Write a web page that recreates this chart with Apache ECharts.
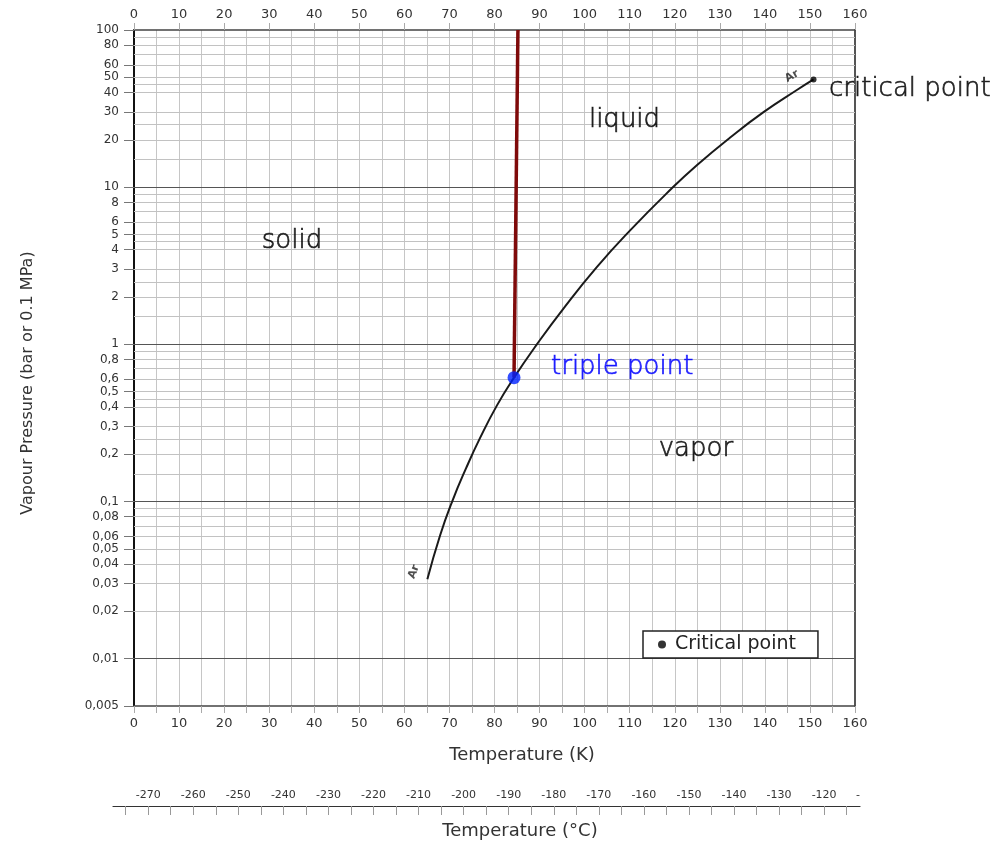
<!DOCTYPE html>
<html>
<head>
<meta charset="utf-8">
<script src="https://cdn.jsdelivr.net/npm/echarts@6/dist/echarts.min.js"></script>
<style>
html,body{margin:0;padding:0;background:#fff;}
#chart{width:998px;height:844px;}
</style>
</head>
<body>
<div id="chart"></div>
<script>
// ---- data ----
const tempK = [65.1, 67.9, 70.6, 73.7, 76.8, 80.55, 84.33, 89.4, 95.3, 102.7, 110.1, 119.3, 124.9, 132.3, 139.7, 147.1, 150.8];
const pressureBar = [0.032, 0.0606, 0.1, 0.163, 0.254, 0.409, 0.614, 1.0, 1.69, 3.10, 5.31, 9.8, 13.8, 20.7, 30.0, 41.5, 48.5];
const meltingK = [84.33, 85.2];
const meltingBar = [0.614, 100];
const triplePoint = [84.33, 0.614];
const criticalPoint = [150.8, 48.5];

const yLabelValues = [100,80,60,50,40,30,20,10,8,6,5,4,3,2,1,0.8,0.6,0.5,0.4,0.3,0.2,0.1,0.08,0.06,0.05,0.04,0.03,0.02,0.01,0.005];
const yMajorGrid = [10, 1, 0.1, 0.01];
const yMinorGrid = [
  0.006,0.007,0.008,0.009,
  0.015,0.02,0.025,0.03,0.04,0.045,0.05,0.06,0.07,0.08,0.09,
  0.15,0.2,0.25,0.3,0.4,0.45,0.5,0.6,0.7,0.8,0.9,
  1.5,2,2.5,3,4,4.5,5,6,7,8,9,
  15,20,25,30,40,45,50,60,70,80,90
];
const celsiusLabels = [-270,-260,-250,-240,-230,-220,-210,-200,-190,-180,-170,-160,-150,-140,-130,-120];
const celsiusTicks = [-275,-270,-265,-260,-255,-250,-245,-240,-235,-230,-225,-220,-215,-210,-205,-200,-195,-190,-185,-180,-175,-170,-165,-160,-155,-150,-145,-140,-135,-130,-125,-120,-115];

const regionLabels = [
  {text:'liquid', value:[108.85, 26.7], align:'center', color:'#000'},
  {text:'solid', value:[35.06, 4.52], align:'center', color:'#000'},
  {text:'vapor', value:[124.7, 0.214], align:'center', color:'#000'},
  {text:'triple point', value:[92.54, 0.711], align:'left', color:'#0000ff'},
  {text:'critical point', value:[154.23, 42.0], align:'left', color:'#000'}
];
const arLabels = [
  {text:'Ar', value:[62.1, 0.0357], rotate:68},
  {text:'Ar', value:[146.0, 50.8], rotate:30}
];

const FONT = 'DejaVu Sans';
const chart = echarts.init(document.getElementById('chart'), null, {renderer:'canvas'});

function fmtP(v){
  const n = Number(Number(v).toPrecision(6));
  return String(n).replace('.', ',');
}

const option = {
  animation: false,
  backgroundColor: '#fff',
  grid: [
    {left:134, right:143, top:30, bottom:138, containLabel:false},
    {left:113, right:138, top:806, height:1, containLabel:false}
  ],
  legend: {
    data: ['Critical point'],
    left: 643, top: 631,
    padding: [4, 22, 4, 15],
    itemWidth: 8, itemHeight: 8,
    icon: 'circle',
    backgroundColor: '#fff',
    borderColor: '#222', borderWidth: 1.5, borderRadius: 0,
    textStyle: {fontFamily: FONT, fontSize: 19, color: '#222', padding:[0,0,0,4]},
    selectedMode: false
  },
  xAxis: [
    {
      type:'value', gridIndex:0, position:'bottom', min:0, max:160, interval:5,
      axisLine:{show:true, onZero:false, lineStyle:{color:'#444', width:1.5}},
      axisTick:{show:true, length:7, lineStyle:{color:'#aaa'}},
      axisLabel:{margin:11, fontFamily:FONT, fontSize:13, color:'#333',
        formatter: v => (v % 10 === 0 ? String(v) : '')},
      splitLine:{show:true, lineStyle:{color:'#c6c6c6', width:1}}
    },
    {
      type:'value', gridIndex:0, position:'top', min:0, max:160, interval:10,
      axisLine:{show:true, onZero:false, lineStyle:{color:'#444', width:1.5}},
      axisTick:{show:true, length:7, lineStyle:{color:'#aaa'}},
      axisLabel:{margin:9, fontFamily:FONT, fontSize:13, color:'#333'},
      splitLine:{show:false}
    },
    {
      type:'value', gridIndex:1, position:'top', min:-277.81, max:-112.04,
      axisLine:{show:true, onZero:false, lineStyle:{color:'#333', width:1.2}},
      axisTick:{show:true, inside:true, length:9, customValues: celsiusTicks, lineStyle:{color:'#999'}},
      axisLabel:{margin:5, fontFamily:FONT, fontSize:11, color:'#333',
        customValues: celsiusLabels.concat([-112.5]),
        formatter: v => (v === -112.5 ? '-' : String(v))},
      splitLine:{show:false}
    }
  ],
  yAxis: [
    {
      type:'log', logBase:10, gridIndex:0, min:0.005, max:100, position:'left',
      axisLine:{show:true, onZero:false, lineStyle:{color:'#111', width:2}},
      axisTick:{show:true, length:10, customValues: yLabelValues, lineStyle:{color:'#777'}},
      axisLabel:{margin:15, fontFamily:FONT, fontSize:12, color:'#333',
        customValues: yLabelValues, formatter: fmtP},
      splitLine:{show:false},
      minorTick:{show:false}
    },
    {
      type:'log', logBase:10, gridIndex:0, min:0.005, max:100, position:'right',
      axisLine:{show:true, onZero:false, lineStyle:{color:'#555', width:2}},
      axisTick:{show:false}, axisLabel:{show:false}, splitLine:{show:false}
    },
    {
      type:'value', gridIndex:1, show:false, min:0, max:1
    }
  ],
  series: [
    {
      name:'grid', type:'line', xAxisIndex:0, yAxisIndex:0,
      data:[[0, 0.005]], showSymbol:false, silent:true,
      lineStyle:{opacity:0},
      markLine:{
        silent:true, symbol:['none','none'], z:1, animation:false,
        label:{show:false},
        lineStyle:{type:'solid', width:1},
        data: yMinorGrid.map(v => ({yAxis:v, lineStyle:{color:'#c2c2c2', type:'solid', width:1}}))
          .concat(yMajorGrid.map(v => ({yAxis:v, lineStyle:{color:'#555', type:'solid', width:1.2}})))
      }
    },
    {
      name:'Ar vapour pressure', type:'line', xAxisIndex:0, yAxisIndex:0,
      data: tempK.map((t,i) => [t, pressureBar[i]]),
      smooth: 0.5, showSymbol:false, z:5,
      lineStyle:{color:'#1a1a1a', width:2}
    },
    {
      name:'melting', type:'line', xAxisIndex:0, yAxisIndex:0,
      data: meltingK.map((t,i) => [t, meltingBar[i]]),
      showSymbol:false, z:6,
      lineStyle:{color:'#7f0a0a', width:3.5}
    },
    {
      name:'Critical point', type:'scatter', xAxisIndex:0, yAxisIndex:0,
      data:[criticalPoint], symbol:'circle', symbolSize:6, z:7,
      itemStyle:{color:'#000'}
    },
    {
      name:'Triple point', type:'scatter', xAxisIndex:0, yAxisIndex:0,
      data:[triplePoint], symbol:'circle', symbolSize:13, z:8,
      itemStyle:{color:'#0022ff'}
    },
    {
      name:'region labels', type:'scatter', xAxisIndex:0, yAxisIndex:0,
      symbolSize:0, silent:true, z:9,
      data: regionLabels.map(d => ({
        value:d.value,
        label:{show:true, formatter:d.text,
          position: d.align === 'left' ? 'right' : 'inside', distance:0,
          color:d.color, fontFamily:FONT, fontWeight:200, fontSize:26,
          textBorderColor:d.color, textBorderWidth:0.7}
      }))
    },
    {
      name:'Ar labels', type:'scatter', xAxisIndex:0, yAxisIndex:0,
      symbolSize:0, silent:true, z:9,
      data: arLabels.map(d => ({
        value:d.value,
        label:{show:true, formatter:d.text, position:'inside', rotate:d.rotate,
          color:'#222', fontFamily:FONT, fontWeight:'bold', fontSize:11}
      }))
    }
  ],
  graphic: [
    {type:'text', x:522, y:755, style:{text:'Temperature (K)', fontFamily:FONT, fontSize:18, fill:'#333', align:'center', verticalAlign:'middle'}},
    {type:'text', x:520, y:831, style:{text:'Temperature (°C)', fontFamily:FONT, fontSize:18, fill:'#333', align:'center', verticalAlign:'middle'}},
    {type:'text', x:28, y:383, rotation:Math.PI/2, style:{text:'Vapour Pressure (bar or 0.1 MPa)', fontFamily:FONT, fontSize:16, fill:'#333', align:'center', verticalAlign:'middle'}}
  ]
};
chart.setOption(option);
</script>
</body>
</html>
